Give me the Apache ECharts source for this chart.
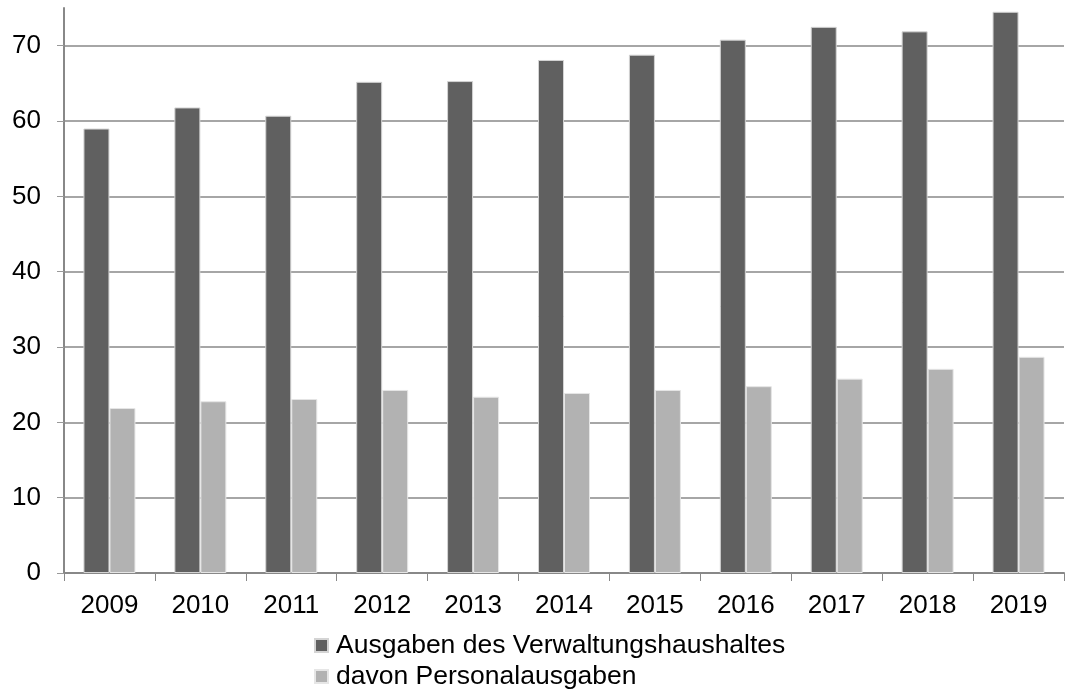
<!DOCTYPE html>
<html>
<head>
<meta charset="utf-8">
<script src="https://cdn.jsdelivr.net/npm/echarts@6/dist/echarts.min.js"></script>
<style>
  html, body { margin: 0; padding: 0; background: #fff; }
  #chart { width: 1067px; height: 690px; }
</style>
</head>
<body>
<div id="chart"></div>
<script>
// Jahre und Werte (Mio.)
const years = ["2009", "2010", "2011", "2012", "2013", "2014", "2015", "2016", "2017", "2018", "2019"];
const verwaltung = [59.0, 61.8, 60.7, 65.2, 65.3, 68.1, 68.8, 70.8, 72.5, 71.9, 74.5];
const personal = [21.9, 22.8, 23.1, 24.3, 23.4, 23.9, 24.3, 24.8, 25.8, 27.1, 28.7];
const seriesNames = ["Ausgaben des Verwaltungshaushaltes", "davon Personalausgaben"];

const chart = echarts.init(document.getElementById("chart"));

chart.setOption({
  animation: false,
  textStyle: { fontFamily: "Liberation Sans, Arial, sans-serif" },
  grid: { left: 64, right: 3, top: 8, bottom: 117, containLabel: false },
  legend: {
    orient: "vertical",
    left: 314,
    top: 632,
    height: 70,
    padding: 0,
    itemWidth: 13,
    itemHeight: 13,
    itemGap: 4,
    icon: "rect",
    textStyle: { fontSize: 26.5, lineHeight: 26, color: "#000", padding: [0, 0, 0, 3] },
    data: seriesNames
  },
  xAxis: {
    type: "category",
    data: years,
    axisLine: { lineStyle: { color: "#888", width: 2 } },
    axisTick: { show: true, length: 8, lineStyle: { color: "#888" } },
    axisLabel: { fontSize: 26, color: "#000", margin: 20 }
  },
  yAxis: {
    type: "value",
    min: 0,
    max: 75,
    interval: 10,
    axisLine: { show: true, lineStyle: { color: "#888", width: 2 } },
    axisTick: { show: true, length: 7, lineStyle: { color: "#999" } },
    axisLabel: { fontSize: 26, color: "#000", margin: 23, showMaxLabel: false },
    splitLine: { show: true, showMaxLine: false, lineStyle: { color: "#a6a6a6", width: 2 } }
  },
  series: [
    {
      name: seriesNames[0],
      type: "bar",
      data: verwaltung,
      barWidth: 26,
      barGap: "0%",
      itemStyle: { color: "#606060", borderColor: "#d4d4d4", borderWidth: 1 }
    },
    {
      name: seriesNames[1],
      type: "bar",
      data: personal,
      barWidth: 26,
      itemStyle: { color: "#b2b2b2", borderColor: "#e6e6e6", borderWidth: 1 }
    }
  ]
});
</script>
</body>
</html>
